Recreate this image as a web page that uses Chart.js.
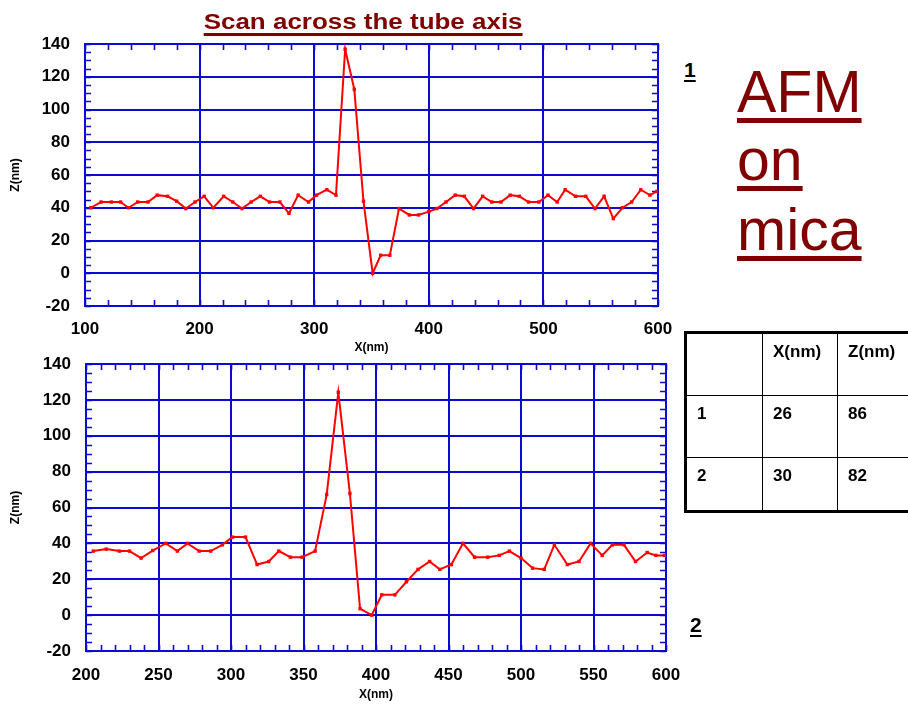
<!DOCTYPE html>
<html>
<head>
<meta charset="utf-8">
<title>AFM scan across the tube axis</title>
<script src="https://cdn.jsdelivr.net/npm/chart.js@4.4.1/dist/chart.umd.min.js"></script>
<style>
  body { margin: 0; background: #fff; }
  #page { position: relative; width: 908px; height: 707px; overflow: hidden; font-family: "Liberation Sans", Arial, sans-serif; }
  canvas { position: absolute; left: 0; }
  #scan1 { top: 0; }
  #scan2 { top: 352px; }
  .title-row { position: absolute; left: 0; width: 726px; top: 9px; text-align: center; }
  .title {
    display: inline-block; transform: scaleX(1.18);
    font-size: 22px; font-weight: bold; color: #800000;
    text-decoration: underline; text-decoration-thickness: 3px; text-underline-offset: 4px;
  }
  .num {
    position: absolute; font-size: 21px; font-weight: bold; color: #000;
    text-decoration: underline; text-decoration-thickness: 2px; text-underline-offset: 3px;
  }
  .afm {
    position: absolute; left: 737px; font-family: "Comic Sans MS", "Liberation Sans", sans-serif;
    font-size: 59px; line-height: 58px; color: #800000;
    text-decoration: underline; text-decoration-thickness: 5px; text-underline-offset: 6px;
  }
  table {
    position: absolute; left: 684px; top: 331px; width: 250px;
    border-collapse: collapse; border: 3px solid #000;
    font-size: 17px; font-weight: bold;
  }
  td { border: 1px solid #000; vertical-align: top; padding: 8px 10px; }
</style>
</head>
<body>
<div id="page">
  <canvas id="scan1" width="680" height="358"></canvas>
  <canvas id="scan2" width="680" height="355"></canvas>

  <div class="title-row"><span class="title">Scan across the tube axis</span></div>
  <div class="num" style="left:684px; top:58px;">1</div>
  <div class="num" style="left:690px; top:613px;">2</div>

  <div class="afm" style="top:63px;">AFM</div>
  <div class="afm" style="top:131px;">on</div>
  <div class="afm" style="top:201px;">mica</div>

  <table>
    <tr style="height:63px;"><td style="width:55px;"></td><td style="width:54px;">X(nm)</td><td>Z(nm)</td></tr>
    <tr style="height:62px;"><td>1</td><td>26</td><td>86</td></tr>
    <tr style="height:54px;"><td>2</td><td>30</td><td>82</td></tr>
  </table>
</div>

<script>
// profile 1: x position (nm) and height (nm)
const scan1X = [105, 114, 123, 131, 138, 146, 155, 163, 172, 180, 188, 196, 204, 212, 221, 229, 237, 245, 253, 261,
  270, 278, 286, 295, 302, 311, 319, 327, 335, 343, 351, 358, 366, 374, 383, 391, 400, 407, 415, 423,
  431, 439, 447, 455, 463, 471, 479, 487, 496, 504, 512, 519, 528, 537, 545, 553, 561, 569, 577, 585, 593, 599];
const scan1Z = [40, 43.5, 43.5, 43.5, 40, 43.5, 43.5, 47.7, 47, 44, 39.5, 43.5, 47, 40, 47, 43.5, 39.5, 43.5, 47, 43.5,
  43.5, 36.6, 47.7, 43.5, 47.7, 51, 47.7, 136.8, 112.3, 44, 0, 11, 11, 39.5, 35.6, 35.6, 37.6, 39.5, 43.5, 47.7,
  47, 39.5, 47, 43.5, 43.5, 47.7, 47, 43.5, 43.5, 47.7, 43.5, 51, 47, 47, 39.5, 47, 33.4, 40, 43.5, 51, 47.7, 50];

// profile 2
const scan2X = [205, 214, 223, 230, 238, 246, 255, 263, 270, 278, 286, 294, 301, 310, 318, 326, 333, 341, 349, 358,
  366, 374, 382, 389, 397, 404, 413, 421, 429, 437, 444, 452, 460, 468, 477, 485, 492, 500, 508, 516,
  523, 532, 540, 548, 556, 563, 571, 579, 587, 593, 599];
const scan2Z = [35.7, 36.8, 35.7, 35.7, 31.8, 36, 40, 35.7, 40, 35.7, 35.7, 39.2, 43.5, 43.5, 28.2, 29.9, 35.7, 32.3, 32.3, 35.7,
  67.2, 124.2, 67.8, 3.6, 0, 11.3, 11.3, 18.6, 25.5, 29.9, 25.5, 28.2, 40, 32.3, 32.3, 33.3, 35.7, 31.8, 26.2, 25.5,
  39.2, 28.2, 29.9, 40, 33.3, 39.2, 39.2, 29.9, 34.9, 33.3, 33.3];

// axis ranges
const zTicks = [-20, 0, 20, 40, 60, 80, 100, 120, 140];
const x1Ticks = [100, 200, 300, 400, 500, 600];
const x2Ticks = [200, 250, 300, 350, 400, 450, 500, 550, 600];

const gridBlue = "#0a0ad0";
const labelFont = { family: "'Liberation Sans', Arial, sans-serif", size: 17, weight: "bold" };
const titleFont = { family: "'Liberation Sans', Arial, sans-serif", size: 12, weight: "bold" };

// small inward ticks on all four sides, plus the frame
const minorTicks = {
  id: "minorTicks",
  beforeDatasetsDraw(chart, args, opts) {
    const { ctx, chartArea: a, scales: { x, y } } = chart;
    const len = 6;
    ctx.save();
    ctx.strokeStyle = gridBlue;
    ctx.lineWidth = 1.6;
    ctx.beginPath();
    for (let v = x.min; v <= x.max + 1e-6; v += opts.xStep) {
      const px = Math.round(x.getPixelForValue(v)) + 0.5;
      ctx.moveTo(px, a.top); ctx.lineTo(px, a.top + len);
      ctx.moveTo(px, a.bottom); ctx.lineTo(px, a.bottom - len);
    }
    for (let v = y.min; v <= y.max + 1e-6; v += opts.yStep) {
      const py = Math.round(y.getPixelForValue(v)) + 0.5;
      ctx.moveTo(a.left, py); ctx.lineTo(a.left + len, py);
      ctx.moveTo(a.right, py); ctx.lineTo(a.right - len, py);
    }
    ctx.stroke();
    ctx.lineWidth = 2;
    ctx.strokeRect(a.left, a.top, a.right - a.left, a.bottom - a.top);
    ctx.restore();
  }
};

function buildScan(id, xs, zs, cfg) {
  const points = xs.map((x, i) => ({ x: x, y: zs[i] }));
  return new Chart(document.getElementById(id), {
    type: "line",
    data: {
      datasets: [{
        data: points,
        borderColor: "#ff0000",
        backgroundColor: "#ff0000",
        borderWidth: 2,
        pointStyle: "rect",
        pointRadius: 1,
        tension: 0
      }]
    },
    plugins: [minorTicks],
    options: {
      responsive: false,
      animation: false,
      devicePixelRatio: 1,
      layout: { padding: { top: cfg.top, right: cfg.right, left: 0, bottom: 0 } },
      plugins: {
        legend: { display: false },
        tooltip: { enabled: false },
        minorTicks: { xStep: cfg.xMinor, yStep: 5 }
      },
      scales: {
        x: {
          type: "linear",
          min: cfg.xTicks[0],
          max: cfg.xTicks[cfg.xTicks.length - 1],
          afterBuildTicks: (scale) => { scale.ticks = cfg.xTicks.map((v) => ({ value: v })); },
          afterFit: (scale) => {
            scale.height = cfg.xHeight;
            scale.paddingLeft = 0; scale.paddingRight = 0;
          },
          grid: { color: gridBlue, lineWidth: 2, drawTicks: false },
          border: { color: gridBlue, width: 2 },
          ticks: { color: "#000", font: labelFont, padding: cfg.xPad, maxRotation: 0 },
          title: { display: true, text: "X(nm)", color: "#000", font: titleFont, padding: { top: 0, bottom: cfg.xTitlePad } }
        },
        y: {
          min: -20,
          max: 140,
          afterBuildTicks: (scale) => { scale.ticks = zTicks.map((v) => ({ value: v })); },
          afterFit: (scale) => {
            scale.width = cfg.left;
            scale.paddingTop = 0; scale.paddingBottom = 0;
          },
          grid: { color: gridBlue, lineWidth: 2, drawTicks: false },
          border: { color: gridBlue, width: 2 },
          ticks: { color: "#000", font: labelFont, padding: 15 },
          title: { display: true, text: "Z(nm)", color: "#000", font: titleFont, padding: { top: 8, bottom: 0 } }
        }
      }
    }
  });
}

buildScan("scan1", scan1X, scan1Z, {
  xTicks: x1Ticks, xMinor: 20, top: 44, right: 22, left: 85, xHeight: 52, xPad: 13, xTitlePad: 3
});
buildScan("scan2", scan2X, scan2Z, {
  xTicks: x2Ticks, xMinor: 10, top: 12, right: 14, left: 86, xHeight: 56, xPad: 14, xTitlePad: 5
});
</script>
</body>
</html>
